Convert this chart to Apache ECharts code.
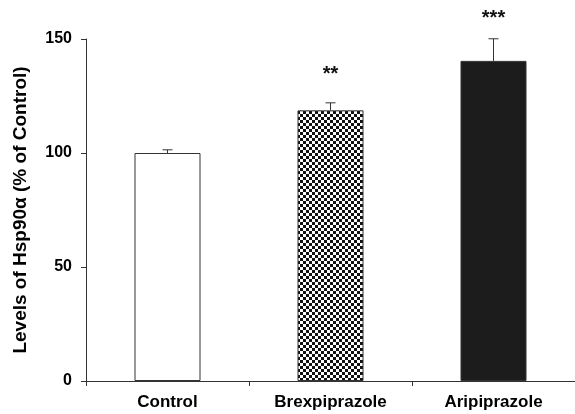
<!DOCTYPE html>
<html><head><meta charset="utf-8">
<script src="https://cdn.jsdelivr.net/npm/echarts@6/dist/echarts.min.js"></script>
<style>html,body{margin:0;padding:0;background:#fff}#c{width:575px;height:414px}</style>
</head><body><div id="c"></div>
<script>
const categories = ['Control', 'Brexpiprazole', 'Aripiprazole'];
const means = [100, 118.7, 140.4];
const errors = [1.4, 3.3, 9.7];
const stars = ['', '**', '***'];
const starLevels = [null, 134.6, 158.8];
const yTicks = [0, 50, 100, 150];

function checker() {
  const c = document.createElement('canvas');
  const s = 3;
  c.width = s * 2; c.height = s * 2;
  const g = c.getContext('2d');
  g.fillStyle = '#ffffff'; g.fillRect(0, 0, s * 2, s * 2);
  g.fillStyle = '#111111';
  g.fillRect(0, 0, s, s); g.fillRect(s, s, s, s);
  return c;
}
const pat = { image: checker(), repeat: 'repeat' };
const fills = ['#ffffff', pat, '#1c1c1c'];

const chart = echarts.init(document.getElementById('c'));
const font = 'Liberation Sans, Arial, sans-serif';
chart.setOption({
  animation: false,
  grid: { left: 86, right: 0, top: 39, bottom: 33 },
  xAxis: {
    type: 'category', data: categories,
    axisLine: { lineStyle: { color: '#333', width: 1 } },
    axisTick: { show: true, length: 5, lineStyle: { color: '#333' } },
    axisLabel: { fontFamily: font, fontWeight: 'bold', fontSize: 17, color: '#000', margin: 13 }
  },
  yAxis: {
    type: 'value', min: 0, max: 150, interval: 50,
    name: 'Levels of Hsp90\u03b1 (% of Control)', nameLocation: 'middle', nameGap: 56,
    nameTextStyle: { fontFamily: font, fontWeight: 'bold', fontSize: 19, color: '#000' },
    axisLine: { show: true, lineStyle: { color: '#333', width: 1 } },
    axisTick: { show: true, length: 5, lineStyle: { color: '#333' } },
    splitLine: { show: false },
    axisLabel: { fontFamily: font, fontWeight: 'bold', fontSize: 16, color: '#000', margin: 14,
      formatter: v => yTicks.includes(v) ? String(v) : '' }
  },
  series: [
    {
      type: 'bar', barWidth: 66,
      data: means.map((v, i) => ({ value: v, itemStyle: { color: fills[i] } })),
      itemStyle: { borderColor: '#333', borderWidth: 1 }
    },
    {
      type: 'custom',
      data: means.map((v, i) => [i, v, errors[i]]),
      renderItem: function (params, api) {
        const i = params.dataIndex;
        const x = api.value(0), m = api.value(1), e = api.value(2);
        const base = api.coord([x, m]);
        const top = api.coord([x, m + e]);
        const children = [
          { type: 'line', shape: { x1: base[0], y1: base[1], x2: top[0], y2: top[1] }, style: { stroke: '#333', lineWidth: 1 } },
          { type: 'line', shape: { x1: top[0] - 5, y1: top[1], x2: top[0] + 5, y2: top[1] }, style: { stroke: '#333', lineWidth: 1 } }
        ];
        if (stars[i]) {
          const sp = api.coord([x, starLevels[i]]);
          children.push({ type: 'text', x: sp[0], y: sp[1],
            style: { text: stars[i], fontFamily: font, fontWeight: 'bold', fontSize: 20, fill: '#111', align: 'center', verticalAlign: 'middle' } });
        }
        return { type: 'group', children: children };
      },
      z: 5
    }
  ]
});
</script></body></html>
